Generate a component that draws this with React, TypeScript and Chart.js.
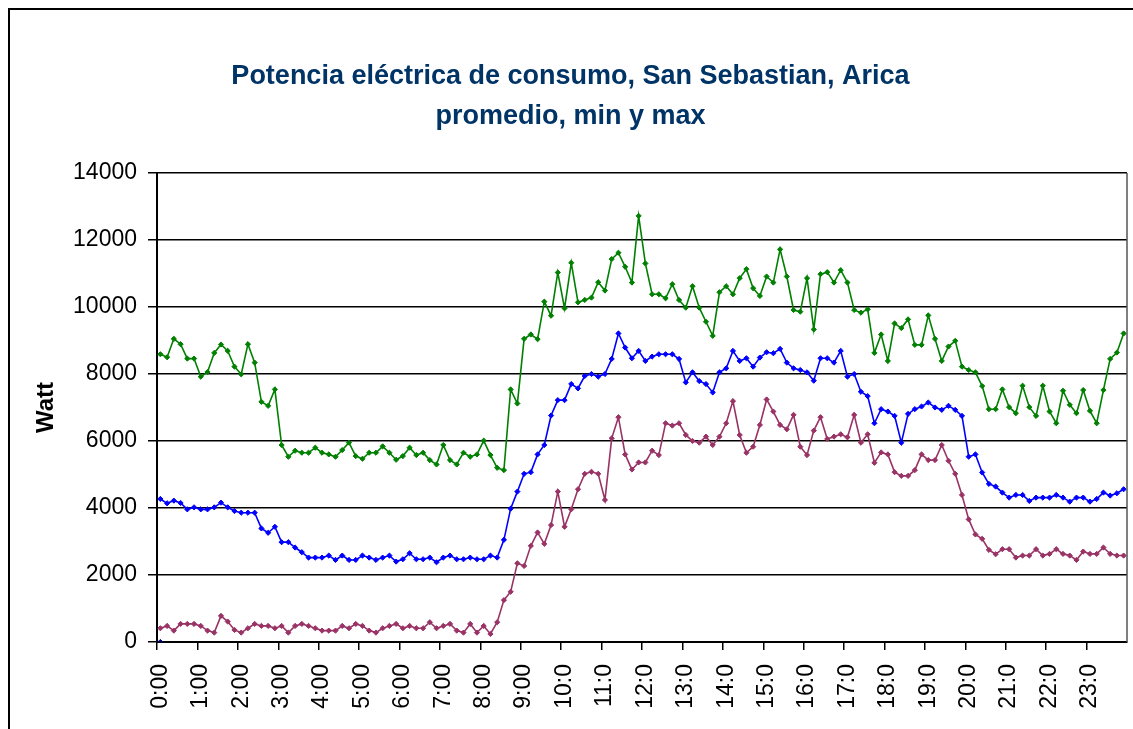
import React, { useEffect, useRef } from "react";
import { Chart, registerables } from "chart.js";

Chart.register(...registerables);

const TITLE_LINES = ["Potencia eléctrica de consumo, San Sebastian, Arica", "promedio, min y max"];
const Y_TITLE = "Watt";

const HOUR_LABELS = [
  "0:00", "1:00", "2:00", "3:00", "4:00", "5:00", "6:00", "7:00", "8:00", "9:00",
  "10:0", "11:0", "12:0", "13:0", "14:0", "15:0", "16:0", "17:0", "18:0", "19:0",
  "20:0", "21:0", "22:0", "23:0",
];

const MINUTES = ["00", "10", "20", "30", "40", "50"];
const CATEGORIES: string[] = [];
for (let h = 0; h < 24; h++) for (const m of MINUTES) CATEGORIES.push(`${h}:${m}`);

const MAX_W = [
  8590, 8500, 9050, 8890, 8460, 8460, 7920, 8060, 8630, 8880,
  8690, 8220, 7990, 8890, 8340, 7170, 7050, 7540, 5880, 5530,
  5710, 5650, 5650, 5800, 5650, 5600, 5530, 5730, 5950, 5550,
  5470, 5650, 5650, 5840, 5650, 5440, 5550, 5800, 5580, 5650,
  5430, 5300, 5880, 5430, 5300, 5650, 5530, 5600, 6010, 5580,
  5200, 5130, 7540, 7120, 9050, 9180, 9040, 10160, 9740, 11030,
  9960, 11320, 10140, 10210, 10280, 10740, 10490, 11430, 11620, 11200,
  10730, 12720, 11300, 10380, 10380, 10260, 10680, 10210, 9980, 10620,
  9980, 9560, 9140, 10440, 10620, 10380, 10860, 11130, 10560, 10330,
  10910, 10730, 11720, 10910, 9910, 9860, 10860, 9330, 10980, 11040,
  10730, 11100, 10730, 9910, 9830, 9930, 8630, 9180, 8390, 9510,
  9370, 9630, 8870, 8870, 9750, 9050, 8390, 8820, 8990, 8220,
  8120, 8050, 7640, 6950, 6950, 7540, 7010, 6830, 7650, 7010,
  6750, 7650, 6880, 6530, 7500, 7080, 6830, 7520, 6900, 6530,
  7520, 8450, 8640, 9210,
];

const AVG_W = [
  4270, 4140, 4220, 4150, 3960, 4020, 3960, 3960, 4020, 4160,
  4020, 3910, 3860, 3860, 3860, 3390, 3260, 3440, 2980, 2980,
  2820, 2680, 2520, 2520, 2520, 2580, 2450, 2580, 2450, 2450,
  2580, 2520, 2450, 2520, 2580, 2400, 2470, 2650, 2470, 2470,
  2520, 2380, 2520, 2580, 2470, 2470, 2520, 2470, 2470, 2580,
  2520, 3050, 3980, 4490, 5020, 5070, 5600, 5880, 6760, 7220,
  7220, 7700, 7570, 7940, 8000, 7920, 8000, 8450, 9210, 8790,
  8470, 8690, 8390, 8520, 8590, 8590, 8590, 8450, 7750, 8050,
  7790, 7700, 7450, 8050, 8170, 8690, 8390, 8470, 8220, 8490,
  8650, 8620, 8750, 8340, 8170, 8120, 8050, 7800, 8470, 8470,
  8340, 8690, 7920, 8000, 7470, 7340, 6530, 6950, 6880, 6750,
  5950, 6810, 6950, 7030, 7150, 7000, 6930, 7050, 6930, 6750,
  5530, 5600, 5060, 4720, 4640, 4460, 4310, 4390, 4390, 4210,
  4310, 4310, 4310, 4390, 4310, 4190, 4310, 4310, 4190, 4270,
  4460, 4370, 4440, 4560,
];

const MIN_W = [
  410, 480, 340, 540, 540, 540, 480, 340, 280, 780,
  610, 360, 280, 410, 540, 480, 480, 410, 480, 280,
  480, 540, 480, 410, 340, 340, 340, 480, 410, 540,
  480, 340, 280, 410, 480, 540, 410, 480, 410, 410,
  590, 410, 480, 540, 340, 280, 540, 280, 480, 240,
  590, 1250, 1500, 2350, 2270, 2870, 3270, 2930, 3490, 4490,
  3440, 3960, 4560, 5020, 5080, 5020, 4240, 6080, 6710, 5600,
  5150, 5360, 5360, 5710, 5580, 6530, 6460, 6530, 6180, 6000,
  5950, 6130, 5880, 6130, 6530, 7190, 6180, 5650, 5830, 6480,
  7240, 6880, 6480, 6350, 6780, 5830, 5580, 6310, 6710, 6060,
  6130, 6200, 6110, 6780, 5950, 6200, 5350, 5660, 5600, 5070,
  4960, 4960, 5130, 5600, 5430, 5430, 5880, 5410, 5020, 4390,
  3660, 3210, 3080, 2750, 2620, 2770, 2770, 2520, 2580, 2580,
  2770, 2580, 2630, 2770, 2630, 2580, 2450, 2700, 2630, 2630,
  2820, 2630, 2580, 2580,
];

const EXTRA_W = [0];

const FONT = "'Liberation Sans', Arial, sans-serif";

function lineDs(label: string, data: number[], color: string) {
  return {
    label,
    data,
    borderColor: color,
    backgroundColor: color,
    borderWidth: 1.6,
    pointStyle: "rectRot" as const,
    pointRadius: 2.6,
    pointBorderWidth: 1,
    pointBorderColor: color,
    pointBackgroundColor: color,
    tension: 0,
  };
}

const frameBorder = {
  id: "plotRightEdge",
  afterDraw(chart: any) {
    const { ctx, chartArea } = chart;
    ctx.save();
    ctx.strokeStyle = "#555";
    ctx.lineWidth = 1.5;
    ctx.beginPath();
    ctx.moveTo(chartArea.right, chartArea.top);
    ctx.lineTo(chartArea.right, chartArea.bottom);
    ctx.stroke();
    ctx.restore();
  },
};

export default function App() {
  const ref = useRef<HTMLCanvasElement>(null);

  useEffect(() => {
    if (!ref.current) return;
    const chart = new Chart(ref.current, {
      type: "line",
      data: {
        labels: CATEGORIES,
        datasets: [
          lineDs("max", MAX_W, "#008000"),
          lineDs("promedio", AVG_W, "#0000FF"),
          lineDs("min", MIN_W, "#993366"),
          { ...lineDs("", EXTRA_W, "#000080"), showLine: false },
        ],
      },
      options: {
        responsive: false,
        animation: false,
        devicePixelRatio: 1,
        layout: { padding: { left: 14, right: 6, top: 0, bottom: 0 } },
        plugins: {
          legend: { display: false },
          tooltip: { enabled: false },
          title: {
            display: true,
            text: TITLE_LINES,
            color: "#003366",
            font: { family: FONT, size: 27, weight: "bold", lineHeight: 1.5 },
            padding: { top: 56, bottom: 36 },
          },
        },
        scales: {
          x: {
            type: "category",
            offset: true,
            afterFit: (s: any) => { s.height = 87; s.paddingLeft = 0; s.paddingRight = 0; },
            grid: {
              display: true,
              offset: true,
              drawOnChartArea: false,
              drawTicks: true,
              tickLength: 8,
              lineWidth: 1.5,
              color: (c: any) => (c.index % 6 === 0 ? "#000" : "rgba(0,0,0,0)"),
            },
            border: { display: true, color: "#000", width: 2 },
            ticks: {
              autoSkip: false,
              minRotation: 90,
              maxRotation: 90,
              padding: 14,
              color: "#000",
              font: { family: FONT, size: 23 },
              callback: (_v: any, i: number) => (i % 6 === 0 ? HOUR_LABELS[i / 6] : ""),
            },
          },
          y: {
            min: 0,
            max: 14000,
            afterFit: (s: any) => { s.width = 143; },
            grid: { color: "#000", lineWidth: 1.5, tickLength: 9 },
            border: { display: true, color: "#000", width: 2 },
            ticks: {
              stepSize: 2000,
              padding: 11,
              color: "#000",
              font: { family: FONT, size: 23 },
              callback: (v: any) => String(v),
            },
            title: {
              display: true,
              text: Y_TITLE,
              color: "#000",
              font: { family: FONT, size: 24, weight: "bold" },
              padding: { top: 18, bottom: 0 },
            },
          },
        },
      },
      plugins: [frameBorder],
    });
    return () => chart.destroy();
  }, []);

  return (
    <div style={{ position: "absolute", left: 0, top: 0, width: 1133, height: 729, overflow: "hidden", background: "#fff" }}>
      <div style={{ position: "absolute", left: 8, top: 8, width: 2000, height: 2000, borderLeft: "2px solid #000", borderTop: "2px solid #000" }} />
      <canvas ref={ref} width={1133} height={729} style={{ position: "absolute", left: 0, top: 0, width: 1133, height: 729 }} />
    </div>
  );
}
